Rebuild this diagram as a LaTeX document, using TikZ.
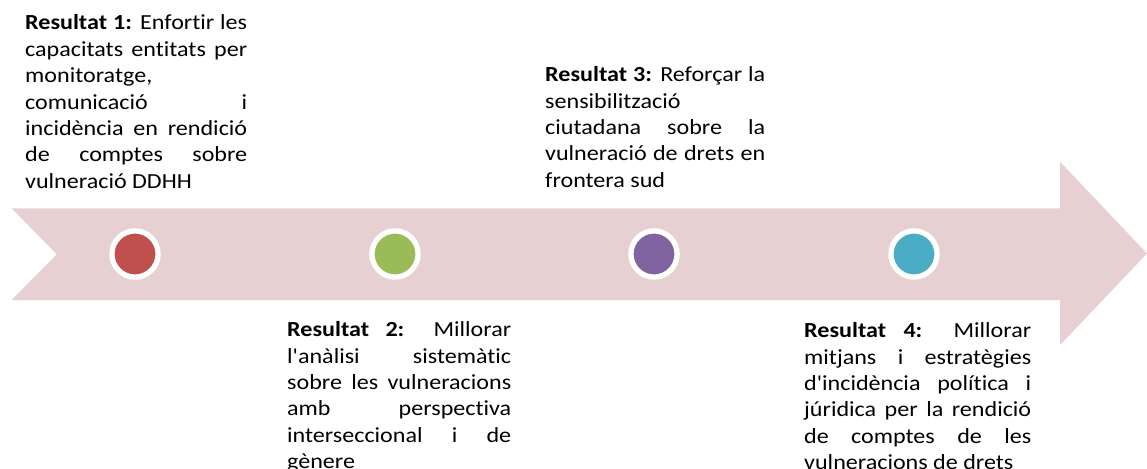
\documentclass[tikz,border=0pt]{standalone}
\usepackage{fontspec}
\setmainfont{Carlito}[Ligatures={TeXOff,NoCommon}, FakeStretch=1.12]
\usepackage{tikz}

\definecolor{arrowpink}{RGB}{231,208,209}
\definecolor{resred}{RGB}{192,80,77}
\definecolor{resgreen}{RGB}{155,187,89}
\definecolor{respurple}{RGB}{128,100,162}
\definecolor{rescyan}{RGB}{75,172,198}

\tolerance=10000
\hbadness=10000
\hyphenpenalty=10000

\tikzset{
  resdot/.style={circle, draw=white, line width=5.3pt, minimum size=46.2pt, inner sep=0pt},
  restext/.style={anchor=base west, inner sep=0pt, align=justify, font=\fontsize{21.5}{26.4}\selectfont}
}

\begin{document}
\begin{tikzpicture}[x=1pt,y=-1pt]
\useasboundingbox (0,0) rectangle (1147,468);
\clip (0,0) rectangle (1147,468);

\fill[arrowpink] (11.7,208.3) -- (1060,208.3) -- (1060,161.7) -- (1147,253.5)
  -- (1060,345) -- (1060,300) -- (11.7,300) -- (56.7,254.3) -- cycle;

\node[resdot, fill=resred] (dot1) at (135,254) {};
\node[resdot, fill=resgreen] (dot2) at (395,254) {};
\node[resdot, fill=respurple] (dot3) at (654,254) {};
\node[resdot, fill=rescyan] (dot4) at (914,254) {};

\node[restext, text width=222pt] (res1) at (25,30)
  {\textbf{Resultat 1:} Enfortir les\linebreak capacitats entitats per\linebreak monitoratge,\newline
   comunicació i\linebreak incidència en rendició\linebreak de comptes sobre\linebreak vulneració DDHH};

\node[restext, text width=224pt] (res2) at (287,336.7)
  {\textbf{Resultat 2:} Millorar\linebreak l'anàlisi sistemàtic\linebreak sobre les vulneracions\linebreak
   amb perspectiva\linebreak interseccional i de\linebreak gènere};

\node[restext, text width=220pt] (res3) at (545,81.7)
  {\textbf{Resultat 3:} Reforçar la\linebreak sensibilització\newline ciutadana sobre la\linebreak
   vulneració de drets en\linebreak frontera sud};

\node[restext, text width=227pt] (res4) at (804,337.7)
  {\textbf{Resultat 4:} Millorar\linebreak mitjans i estratègies\linebreak d'incidència política i\linebreak
   júridica per la rendició\linebreak de comptes de les\linebreak vulneracions de drets};

\end{tikzpicture}
\end{document}
